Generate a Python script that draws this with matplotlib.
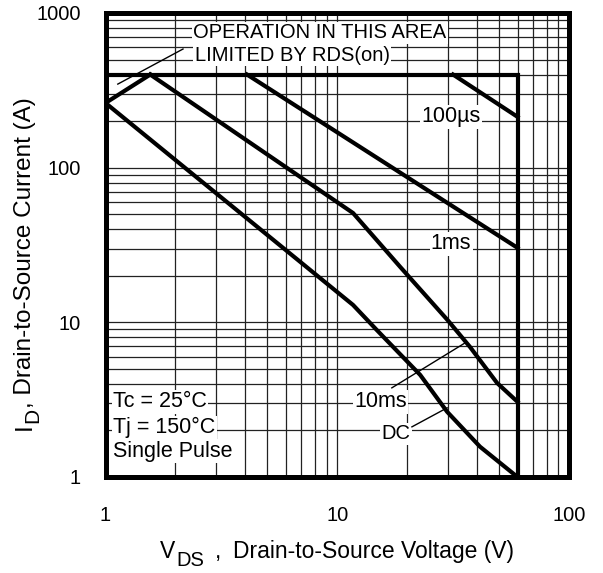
import numpy as np
import matplotlib
matplotlib.use("Agg")
from matplotlib import pyplot as plt
from matplotlib.ticker import FixedLocator, FixedFormatter, NullFormatter

plt.rcParams['font.family'] = ['Liberation Sans', 'DejaVu Sans']

# safe operating area
limit_v = [1.0, 60.0, 60.0]
limit_i = [400.0, 400.0, 1.0]

rds_v = [1.0, 1.56]
rds_i = [262.0, 400.0]

us100_v = [31.6, 60.0]
us100_i = [400.0, 213.0]

ms1_v = [4.08, 60.0]
ms1_i = [400.0, 30.3]

ms10_v = [1.56, 11.7, 18.7, 30.0, 37.4, 48.9, 60.0]
ms10_i = [400.0, 50.9, 22.8, 10.3, 6.93, 4.06, 3.06]

dc_v = [1.0, 11.7, 14.8, 22.8, 29.8, 41.3, 58.5, 60.0]
dc_i = [262.0, 12.95, 8.93, 4.57, 2.64, 1.57, 1.03, 1.0]

# leader lines from the labels to the curves
rds_lead_v = [1.13, 2.16]
rds_lead_i = [347.0, 585.0]
ms10_lead_v = [17.2, 35.6]
ms10_lead_i = [3.77, 7.36]
dc_lead_v = [21.0, 29.8]
dc_lead_i = [2.11, 2.80]

x_ticks = [1, 10, 100]
x_labels = ["1", "10", "100"]
y_ticks = [1, 10, 100, 1000]
y_labels = ["1", "10", "100", "1000"]

W, H = 603, 573
fig = plt.figure(figsize=(W / 100, H / 100), dpi=100)
ax = fig.add_axes([105.5 / W, 1 - 477 / H, 463.5 / W, 464 / H])
ax.set_xscale("log")
ax.set_yscale("log")
ax.set_xlim(1, 100)
ax.set_ylim(1, 1000)

ax.xaxis.set_major_locator(FixedLocator(x_ticks))
ax.xaxis.set_major_formatter(FixedFormatter(x_labels))
ax.yaxis.set_major_locator(FixedLocator(y_ticks))
ax.yaxis.set_major_formatter(FixedFormatter(y_labels))
ax.xaxis.set_minor_formatter(NullFormatter())
ax.yaxis.set_minor_formatter(NullFormatter())

ax.grid(True, which="both", color="#222222", linewidth=0.9)
ax.set_axisbelow(True)
ax.tick_params(which="both", length=0)
ax.tick_params(axis="x", pad=21, labelsize=14.5)
ax.tick_params(axis="y", pad=18, labelsize=14.5)
for s in ax.spines.values():
    s.set_linewidth(3.6)

lw = 3.0
ax.plot(limit_v, limit_i, color="black", lw=lw, zorder=4, solid_joinstyle="miter")
ax.plot(rds_v, rds_i, color="black", lw=lw, zorder=4)
ax.plot(us100_v, us100_i, color="black", lw=lw, zorder=4)
ax.plot(ms1_v, ms1_i, color="black", lw=lw, zorder=4)
ax.plot(ms10_v, ms10_i, color="black", lw=lw, zorder=4)
ax.plot(dc_v, dc_i, color="black", lw=lw, zorder=4)

ax.plot(rds_lead_v, rds_lead_i, color="black", lw=1.0, zorder=4)
ax.plot(ms10_lead_v, ms10_lead_i, color="black", lw=1.0, zorder=4)
ax.plot(dc_lead_v, dc_lead_i, color="black", lw=1.0, zorder=4)

box = dict(facecolor="white", edgecolor="none", pad=1.0)
fs = 14.5
fs2 = 15.5
ax.text(2.39, 743, "OPERATION IN THIS AREA", fontsize=fs, ha="left", va="center", bbox=box, zorder=3)
ax.text(2.43, 535, "LIMITED BY RDS(on)", fontsize=fs, ha="left", va="center", bbox=box, zorder=3)
ax.text(31.0, 213, "100\u00b5s", fontsize=fs2, ha="center", va="center", bbox=box, zorder=3)
ax.text(31.0, 32.1, "1ms", fontsize=fs2, ha="center", va="center", bbox=box, zorder=3)
ax.text(15.4, 3.06, "10ms", fontsize=fs2, ha="center", va="center", bbox=box, zorder=3)
ax.text(17.9, 1.90, "DC", fontsize=fs, ha="center", va="center", bbox=box, zorder=3)
ax.text(1.077, 3.06, "Tc = 25\u00b0C", fontsize=fs2, ha="left", va="center", bbox=box, zorder=3)
ax.text(1.077, 2.08, "Tj = 150\u00b0C", fontsize=fs2, ha="left", va="center", bbox=box, zorder=3)
ax.text(1.077, 1.47, "Single Pulse", fontsize=fs2, ha="left", va="center", bbox=box, zorder=3)


def ftext(px, py, s, size, rot=0):
    # place text by pixel position (baseline-left), y measured from the top
    fig.text(px / W, 1 - py / H, s, fontsize=size, ha="left", va="baseline",
             rotation=rot, rotation_mode="anchor")


# x axis label with a full-size lowered subscript
ftext(160, 558, "V", 16.5)
ftext(176, 566, "DS", 14.5)
ftext(215, 558, ",", 16.5)
ftext(233, 558, "Drain-to-Source Voltage (V)", 16.5)

# y axis label, rotated
ftext(31, 430, "I", 17.5, rot=90)
ftext(38, 423, "D", 15.0, rot=90)
ftext(31, 408, ", Drain-to-Source Current (A)", 17.5, rot=90)

fig.savefig("out.png", dpi=100)
